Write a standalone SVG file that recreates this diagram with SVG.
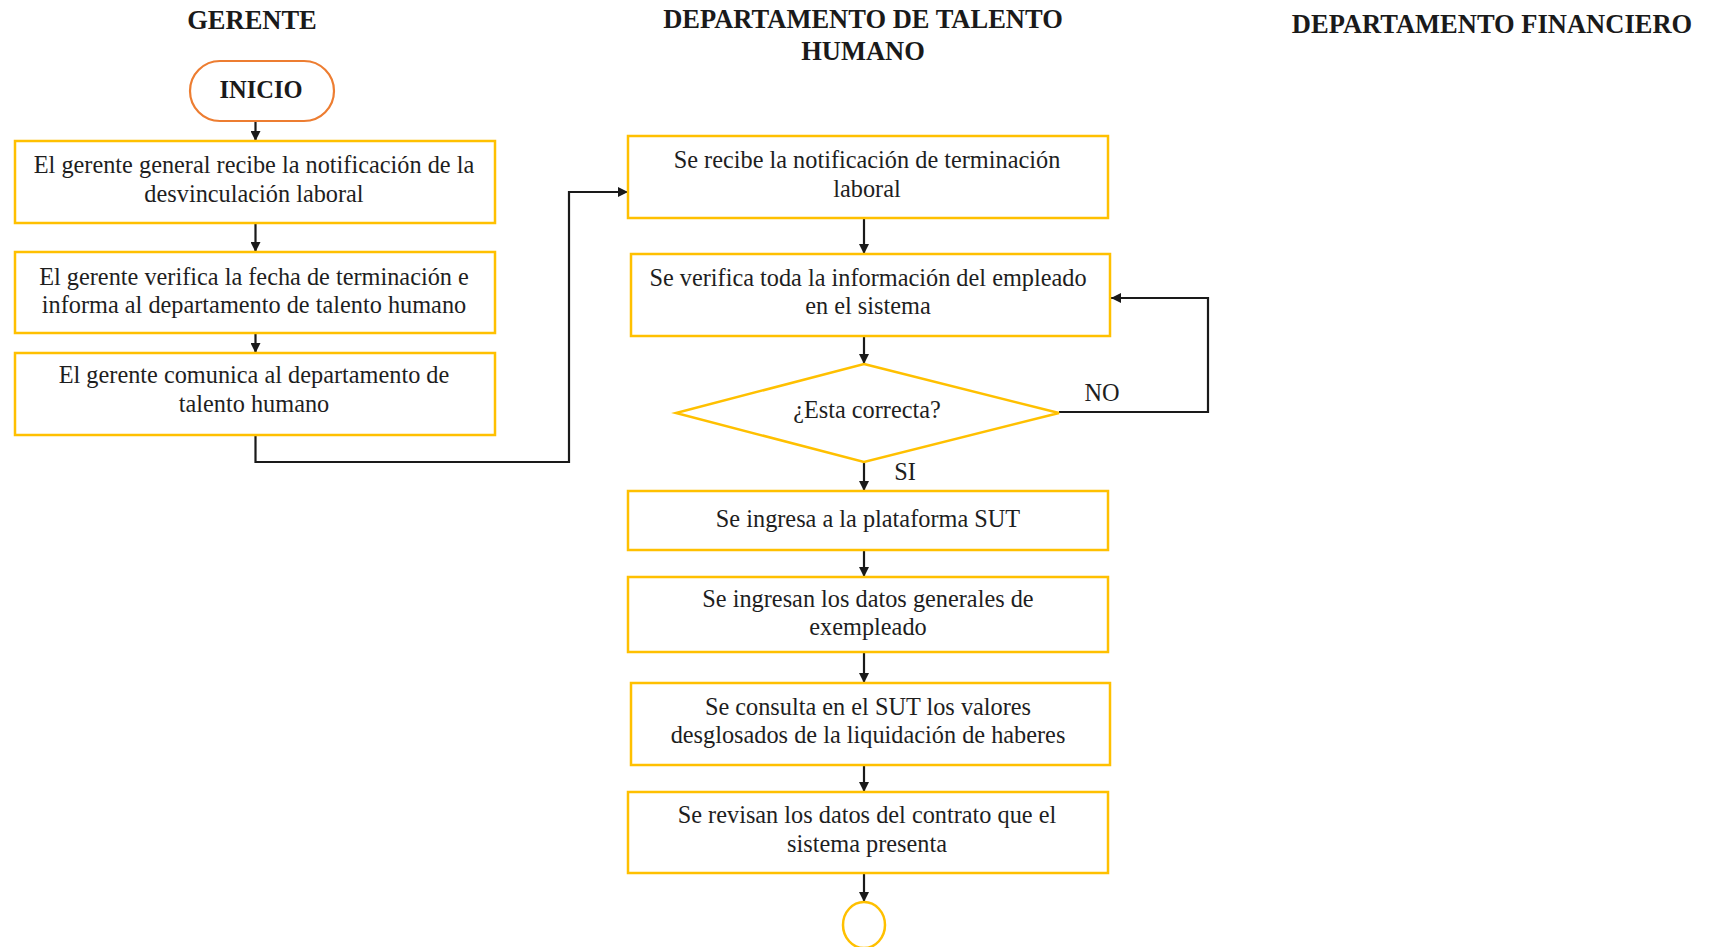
<svg xmlns="http://www.w3.org/2000/svg" width="1709" height="947" viewBox="0 0 1709 947">
<defs>
<style>
.title{font-family:"Liberation Serif","Times New Roman",serif;font-weight:bold;font-size:26.5px;fill:#1a1a1a;text-anchor:middle}
.t{font-family:"Liberation Serif","Times New Roman",serif;font-size:24.3px;fill:#1e1e1e;text-anchor:middle}
.box{fill:#fff;stroke:#FFC000;stroke-width:2.5}
.conn{fill:none;stroke:#1a1a1a;stroke-width:2.2}
</style>
<marker id="ah" viewBox="0 0 10 10" refX="10" refY="5" markerWidth="10" markerHeight="10" markerUnits="userSpaceOnUse" orient="auto">
<path d="M0,0 L10,5 L0,10 z" fill="#1a1a1a"/>
</marker>
</defs>
<rect width="1709" height="947" fill="#fff"/>

<g id="headers">
<text class="title" x="252" y="29">GERENTE</text>
<text class="title" x="863" y="28">DEPARTAMENTO DE TALENTO</text>
<text class="title" x="863" y="60">HUMANO</text>
<text class="title" x="1492" y="33">DEPARTAMENTO FINANCIERO</text>
</g>

<g id="connectors">
<path class="conn" d="M255.5,121 V141" marker-end="url(#ah)"/>
<path class="conn" d="M255.5,223 V252" marker-end="url(#ah)"/>
<path class="conn" d="M255.5,333 V353" marker-end="url(#ah)"/>
<path class="conn" d="M255.5,435 V462 H569 V192 H628" marker-end="url(#ah)"/>
<path class="conn" d="M864,218 V254" marker-end="url(#ah)"/>
<path class="conn" d="M864,336 V364" marker-end="url(#ah)"/>
<path class="conn" d="M864,462 V491" marker-end="url(#ah)"/>
<path class="conn" d="M1059,412 H1208 V298 H1111" marker-end="url(#ah)"/>
<path class="conn" d="M864,550 V577" marker-end="url(#ah)"/>
<path class="conn" d="M864,652 V683" marker-end="url(#ah)"/>
<path class="conn" d="M864,765 V792" marker-end="url(#ah)"/>
<path class="conn" d="M864,873 V902" marker-end="url(#ah)"/>
<text class="t" x="1102" y="401">NO</text>
<text class="t" x="905" y="480">SI</text>
</g>

<g id="inicio">
<rect x="190" y="61" width="144" height="60" rx="30" ry="30" fill="#fff" stroke="#ED7D31" stroke-width="2.2"/>
<text class="title" x="261" y="98" style="font-size:24.5px">INICIO</text>
</g>

<g id="g1">
<rect class="box" x="15" y="141" width="480" height="82"/>
<text class="t" x="254" y="173">El gerente general recibe la notificación de la</text>
<text class="t" x="254" y="202">desvinculación laboral</text>
</g>

<g id="g2">
<rect class="box" x="15" y="252" width="480" height="81"/>
<text class="t" x="254" y="285">El gerente verifica la fecha de terminación e</text>
<text class="t" x="254" y="313">informa al departamento de talento humano</text>
</g>

<g id="g3">
<rect class="box" x="15" y="353" width="480" height="82"/>
<text class="t" x="254" y="383">El gerente comunica al departamento de</text>
<text class="t" x="254" y="412">talento humano</text>
</g>

<g id="t1">
<rect class="box" x="628" y="136" width="480" height="82"/>
<text class="t" x="867" y="168">Se recibe la notificación de terminación</text>
<text class="t" x="867" y="197">laboral</text>
</g>

<g id="t2">
<rect class="box" x="631" y="254" width="479" height="82"/>
<text class="t" x="868" y="286">Se verifica toda la información del empleado</text>
<text class="t" x="868" y="314">en el sistema</text>
</g>

<g id="decision">
<polygon points="864,364 1059,413 864,462 676,413" fill="#fff" stroke="#FFC000" stroke-width="2.5"/>
<text class="t" x="867" y="418">¿Esta correcta?</text>
</g>

<g id="t3">
<rect class="box" x="628" y="491" width="480" height="59"/>
<text class="t" x="868" y="527">Se ingresa a la plataforma SUT</text>
</g>

<g id="t4">
<rect class="box" x="628" y="577" width="480" height="75"/>
<text class="t" x="868" y="607">Se ingresan los datos generales de</text>
<text class="t" x="868" y="635">exempleado</text>
</g>

<g id="t5">
<rect class="box" x="631" y="683" width="479" height="82"/>
<text class="t" x="868" y="715">Se consulta en el SUT los valores</text>
<text class="t" x="868" y="743">desglosados de la liquidación de haberes</text>
</g>

<g id="t6">
<rect class="box" x="628" y="792" width="480" height="81"/>
<text class="t" x="867" y="823">Se revisan los datos del contrato que el</text>
<text class="t" x="867" y="852">sistema presenta</text>
</g>

<g id="fin">
<ellipse cx="864" cy="925" rx="21" ry="23" fill="#fff" stroke="#FFC000" stroke-width="2.5"/>
</g>
</svg>
